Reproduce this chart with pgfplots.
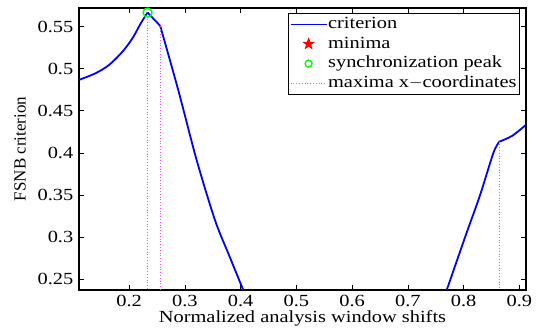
\documentclass[border=0pt]{standalone}
\usepackage{fontspec}
\setmainfont{Liberation Serif}[FakeStretch=1.2]
\newfontfamily\uprightserif{Liberation Serif}
\usepackage{pgfplots}
\pgfplotsset{compat=1.18}
\definecolor{maxpink}{RGB}{255,70,255}

% filled five-pointed star for the minima marker
\pgfdeclareplotmark{pentagram}{%
  \pgfpathmoveto{\pgfpointpolar{90}{\pgfplotmarksize}}%
  \pgfpathlineto{\pgfpointpolar{126}{0.4\pgfplotmarksize}}%
  \pgfpathlineto{\pgfpointpolar{162}{\pgfplotmarksize}}%
  \pgfpathlineto{\pgfpointpolar{198}{0.4\pgfplotmarksize}}%
  \pgfpathlineto{\pgfpointpolar{234}{\pgfplotmarksize}}%
  \pgfpathlineto{\pgfpointpolar{270}{0.4\pgfplotmarksize}}%
  \pgfpathlineto{\pgfpointpolar{306}{\pgfplotmarksize}}%
  \pgfpathlineto{\pgfpointpolar{342}{0.4\pgfplotmarksize}}%
  \pgfpathlineto{\pgfpointpolar{18}{\pgfplotmarksize}}%
  \pgfpathlineto{\pgfpointpolar{54}{0.4\pgfplotmarksize}}%
  \pgfpathclose\pgfusepathqfillstroke}

\pgfplotsset{
  seg legend/.style={legend image code/.code={\draw[##1, line width=1pt] (0pt,0pt) -- (36pt,0pt);}},
  dot legend/.style={legend image code/.code={\draw[##1] plot coordinates {(18pt,0pt)};}},
  maxline/.style={maxpink, line width=0.8pt, dash pattern=on 1pt off 1.8pt},
  critline/.style={blue, line width=1.8pt},
}
\newcommand{\lblfont}{\fontsize{17}{20}\selectfont}

\begin{document}
\begin{tikzpicture}
\begin{axis}[
  scale only axis,
  width=447pt, height=282pt,
  xmin=0.11, xmax=0.912,
  ymin=0.2373, ymax=0.572,
  xtick={0.2,0.3,0.4,0.5,0.6,0.7,0.8,0.9},
  ytick={0.25,0.3,0.35,0.4,0.45,0.5,0.55},
  yticklabels={0.25,0.3,0.35,0.4,0.45,0.5,0.55},
  xticklabels={0.2,0.3,0.4,0.5,0.6,0.7,0.8,0.9},
  tick align=inside,
  major tick length=5pt,
  tick style={black, line width=0.6pt},
  axis line style={black, line width=1.2pt},
  /pgf/number format/assume math mode=true,
  tick label style={font=\lblfont, inner sep=0pt},
  xticklabel style={anchor=base, yshift=-17pt},
  yticklabel style={anchor=east, xshift=-5.5pt},
  xlabel={Normalized analysis window shifts},
  xlabel style={font=\lblfont, inner sep=0pt, at={(axis description cs:0.5,0)}, anchor=base, yshift=-33pt},
  ylabel={\uprightserif FSNB criterion},
  ylabel style={font=\lblfont, inner sep=0pt, at={(axis description cs:-0.132,0.5)}, anchor=center},
  legend style={
    at={(0.9866,0.9823)}, anchor=north east,
    font=\lblfont,
    draw=black, line width=0.8pt,
    inner xsep=2pt, inner ysep=1.5pt,
    row sep=1pt,
    nodes={inner sep=1pt, text height=12.5pt, text depth=4.2pt},
  },
  legend cell align=left,
  seg legend,
]
% FSNB criterion curve, drawn piece by piece between its kinks
\addplot[critline, smooth] coordinates {
  (0.1102,0.4867) (0.1402,0.4947) (0.1641,0.5045) (0.1882,0.5203)
  (0.2061,0.5362) (0.2210,0.5540) (0.233,0.5666)
};
\addlegendentry{criterion}
\addplot[critline, forget plot] coordinates {(0.233,0.5666) (0.2557,0.5508)};
\addplot[critline, smooth, forget plot] coordinates {
  (0.2557,0.5508) (0.288,0.4748) (0.321,0.3917) (0.3539,0.3204)
  (0.379,0.2789) (0.4047,0.2373)
};
\addplot[critline, smooth, forget plot] coordinates {
  (0.7698,0.2373) (0.8027,0.3000) (0.8296,0.3500) (0.8535,0.4000)
  (0.8643,0.4134)
};
\addplot[critline, smooth, forget plot] coordinates {
  (0.8643,0.4134) (0.887,0.4202) (0.912,0.4333)
};
% minima lie below the displayed range
\addplot[red, only marks, mark=pentagram, mark size=5.5pt, dot legend]
  coordinates {(0.6,0.10)};
\addlegendentry{minima}
% synchronization peak
\addplot[green, only marks, mark=o, mark size=4.5pt, line width=1.4pt,
  legend image code/.code={\draw[green, line width=1.4pt] plot[mark=o, mark size=3.5pt] coordinates {(18pt,0pt)};}]
  coordinates {(0.233,0.5666)};
\addlegendentry{synchronization peak}
% abscissae of the maxima
\addplot[maxline] coordinates {(0.233,0.5620) (0.233,0.2373)};
\addlegendentry{maxima x$-$coordinates}
\addplot[maxline, forget plot] coordinates {(0.2557,0.5508) (0.2557,0.2373)};
\addplot[maxline, forget plot] coordinates {(0.8643,0.4134) (0.8643,0.2373)};
\end{axis}
\pgfresetboundingbox
\path[use as bounding box] (current axis.south west) ++(-79pt,-41pt) rectangle ++(547pt,331pt);
\end{tikzpicture}
\end{document}
